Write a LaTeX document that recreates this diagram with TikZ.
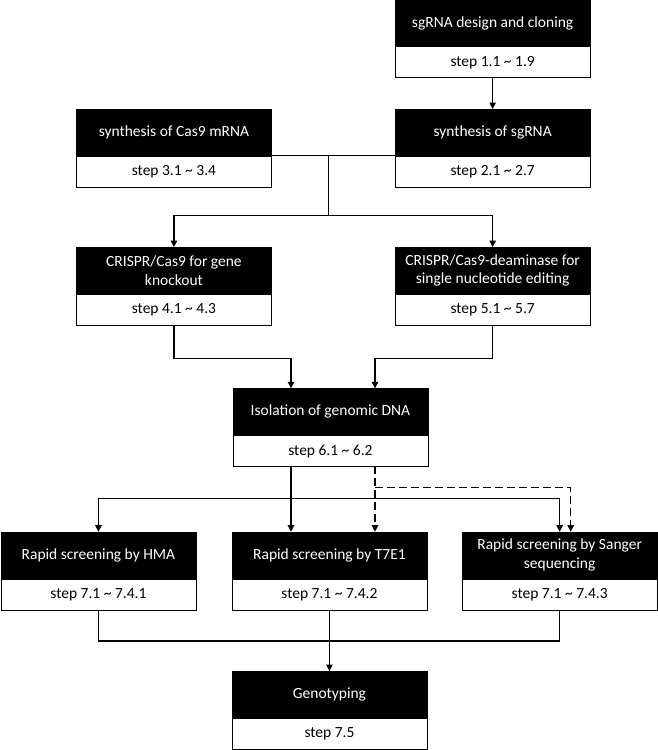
\documentclass[tikz,border=0pt]{standalone}
\usepackage{fontspec}
\setmainfont{Carlito}
\usetikzlibrary{arrows.meta,calc}
\begin{document}
\begin{tikzpicture}[x=1pt,y=-1pt,
 head/.style={draw=black, line width=0.9pt, fill=black, text=white, minimum width=195pt, minimum height=46pt, align=center, inner sep=0pt, font=\fontsize{15.5}{18.5}\selectfont, anchor=north west},
 stepbox/.style={draw=black, line width=0.9pt, fill=white, minimum width=195pt, minimum height=31pt, inner sep=0pt, font=\fontsize{15.5}{18.5}\selectfont, anchor=north},
 conn/.style={line width=1.1pt},
 arr/.style={conn, -{Triangle[width=6.5pt,length=6.5pt]}},
 darr/.style={arr, dash pattern=on 8pt off 4pt}]
\useasboundingbox[fill=white] (0,0) rectangle (657,750);

% boxes
\node[head] (Ah) at (394.7,-0.5) {sgRNA design and cloning};
\node[stepbox] (As) at (Ah.south) {step 1.1 \textasciitilde{} 1.9};
\node[head] (Bh) at (76,109) {synthesis of Cas9 mRNA};
\node[stepbox] (Bs) at (Bh.south) {step 3.1 \textasciitilde{} 3.4};
\node[head] (Ch) at (394.7,109) {synthesis of sgRNA};
\node[stepbox] (Cs) at (Ch.south) {step 2.1 \textasciitilde{} 2.7};
\node[head] (Dh) at (76,247) {CRISPR/Cas9 for gene\\knockout};
\node[stepbox] (Ds) at (Dh.south) {step 4.1 \textasciitilde{} 4.3};
\node[head] (Eh) at (394.7,247) {CRISPR/Cas9-deaminase for\\single nucleotide editing};
\node[stepbox] (Es) at (Eh.south) {step 5.1 \textasciitilde{} 5.7};
\node[head] (Fh) at (232.5,388.3) {Isolation of genomic DNA};
\node[stepbox] (Fs) at (Fh.south) {step 6.1 \textasciitilde{} 6.2};
\node[head] (Gh) at (0.5,531.7) {Rapid screening by HMA};
\node[stepbox] (Gs) at (Gh.south) {step 7.1 \textasciitilde{} 7.4.1};
\node[head] (Hh) at (231.5,531.7) {Rapid screening by T7E1};
\node[stepbox] (Hs) at (Hh.south) {step 7.1 \textasciitilde{} 7.4.2};
\node[head] (Ih) at (461.7,531.7) {Rapid screening by Sanger\\sequencing};
\node[stepbox] (Is) at (Ih.south) {step 7.1 \textasciitilde{} 7.4.3};
\node[head] (Jh) at (231.5,671) {Genotyping};
\node[stepbox] (Js) at (Jh.south) {step 7.5};

% connectors
\draw[arr] (As.south) -- (Ch.north);
\coordinate (j1) at (328.3,155);
\coordinate (j2) at (328.3,215.7);
\draw[conn] (Bh.south east) -- (Ch.south west);
\draw[conn] (j1) -- (j2);
\draw[arr] (j2) -| (Dh.north);
\draw[arr] (j2) -| (Eh.north);

\coordinate (f1) at (291,388.3);
\coordinate (f2) at (375,388.3);
\draw[arr] (Ds.south) -- ++(0,33) -| (f1);
\draw[arr] (Es.south) -- ++(0,33) -| (f2);

\coordinate (g1) at (291,465.8);
\coordinate (g2) at (375,465.8);
\coordinate (h1) at (291,531.7);
\coordinate (h2) at (375,531.7);
\coordinate (sb) at (291,498.3);
\coordinate (db) at (375,487.7);
\coordinate (i2) at (570.7,531.7);
\draw[arr] (g1) -- (h1);
\draw[arr] (sb) -| (Gh.north);
\draw[arr] (sb) -| (Ih.north);
\draw[darr] (g2) -- (h2);
\draw[darr] (db) -| (i2);

\draw[conn] (Gs.south) -- ++(0,30.5) -| (Is.south);
\draw[arr] (Hs.south) -- (Jh.north);
\end{tikzpicture}
\end{document}
